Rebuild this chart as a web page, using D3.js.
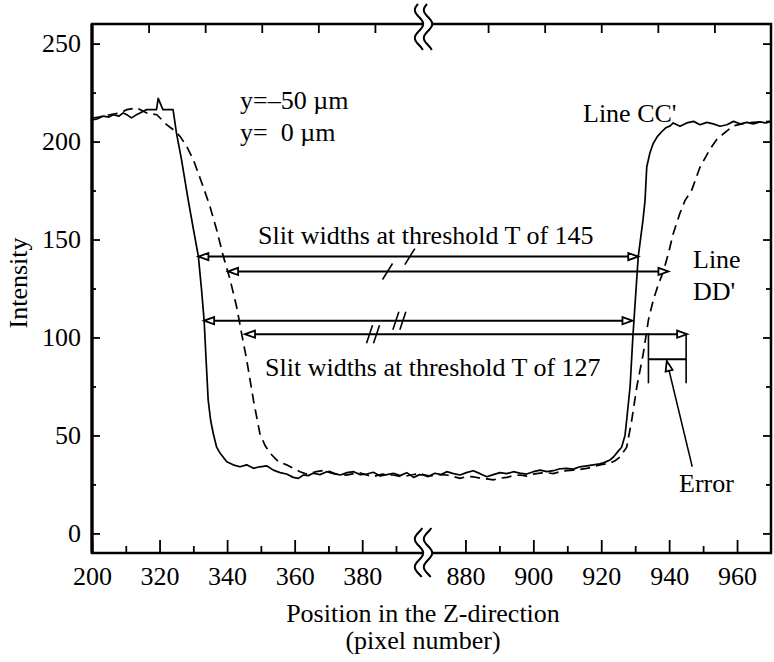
<!DOCTYPE html>
<html><head><meta charset="utf-8">
<script src="https://cdn.jsdelivr.net/npm/d3@7"></script>
<style>
body{margin:0;background:#fff}
text{font-family:"Liberation Serif","Times New Roman",serif;fill:#000}
</style>
</head><body>
<svg id="c" width="774" height="662"></svg>
<script>
// ---------- data ----------
const yTicks = [0, 50, 100, 150, 200, 250];
const yMinorTicks = [25, 75, 125, 175, 225];
const xLeftTicks = [300, 320, 340, 360, 380];
const xLeftLabels = ["200", "320", "340", "360", "380"];
const xLeftMinor = [310, 330, 350, 370, 390];
const xRightTicks = [880, 900, 920, 940, 960];
const xRightLabels = ["880", "900", "920", "940", "960"];
const xRightMinor = [890, 910, 930, 950];
const topTicks = [1, 2, 3, 4, 5, 7, 8, 9, 10, 11];

// Line CC' (solid)
const ccLeft = [[300,211],[301.5,211.5],[303.3,213],[305,212.5],[306.3,213.7],[308,213],[309.2,214.6],[310.5,213.5],[311.7,212.1],[313,213.5],[314.2,214.6],[315.2,215.5],[316.2,216.3],[319.1,216.3],[319.6,222],[321,216.3],[324,216.3],[325,204.4],[326.5,190.8],[328.5,170],[330,155.5],[331.5,141.3],[332.4,125],[333.2,108.6],[333.8,88],[334.4,68],[335.1,58],[335.9,51],[336.9,44],[337.9,41],[339.9,36.6],[341.8,35],[343.8,34],[345.8,35],[347.8,33.2],[349.7,34],[351.7,34.5],[353.7,32.3],[355.7,31],[357.6,30.3],[359.6,28.6],[361.1,28.1],[362.6,29.8],[364,29.5],[365.5,30.7],[367.5,30],[369.5,31.5],[371.5,30.5],[373.5,29.8],[375.5,31],[377.5,31.5],[379.4,30],[381.4,30.3],[383.3,31.2],[385.3,29.3],[387.3,30],[389.3,30.7],[391.2,29.5],[393.2,31],[395.2,28.6],[397,30],[398,29.8]];
const ccRight = [[867.5,29.8],[869,29],[871,30.7],[872.8,30],[874.5,31.5],[876.5,30.5],[878.4,29.8],[880.3,31],[882.3,32],[884.3,30.5],[886.3,28.9],[888.2,30],[890.2,31],[892.2,30.5],[894.1,31.5],[896,30.8],[898,30.3],[900,31.5],[902,32.3],[904,31.5],[905.9,32],[907.8,33],[909.8,33.2],[911.8,32.8],[913.7,34],[915.7,34.5],[917.7,35],[919.5,35.5],[920.6,36],[922.6,37.5],[923.6,39],[925,42],[926,44],[927,50],[927.5,58],[928.5,75],[929.3,100],[930.9,141.3],[932.3,160],[932.9,170],[933.4,187],[934.3,194],[935.3,199],[936.5,202.5],[937.8,205],[939,207],[940.3,208],[941.2,209.5],[943.2,207.8],[945.2,209.5],[947.2,210.3],[949.1,208.6],[951.1,209.8],[953,209],[955,207.8],[957,208.6],[959,210.3],[961,209],[962.9,209.8],[964.8,209],[966.8,210],[968.5,209.5],[970,210.3]];

// Line DD' (dashed)
const ddLeft = [[300,212],[302,212.5],[305.3,213.7],[308.3,214.6],[310.3,216.3],[313.2,217.2],[316.2,214.6],[319.2,213.7],[322.1,208.6],[324.1,206],[326.1,202.6],[328,197.6],[330,190.8],[332.9,177],[334.9,167],[336.9,155],[338.9,141.3],[340.9,129.4],[342.8,115.8],[344.3,102],[345.8,88.6],[347.8,68],[349.7,51],[351.2,45],[352.7,41],[355.2,36.6],[357.6,35],[359.6,33.2],[361.6,31.5],[363.5,30.3],[366.4,31.5],[369.4,32.3],[372.3,30.3],[375.3,29.8],[379.2,31],[383.1,28.9],[386,30.3],[389.1,29.8],[392,28.9],[395.9,30.3],[398,30.3]];
const ddRight = [[867.5,30],[869.6,29.3],[872,30],[874.5,29.8],[876.5,29],[878.4,28.1],[880.3,29],[882.3,28.9],[884.3,28.2],[886.3,27.8],[888.2,27.3],[890.2,28.2],[892.2,28.6],[894.1,29.5],[896.1,29.8],[898,29.2],[900,30.3],[902,30.8],[903.9,31],[905.9,30.5],[907.9,31.5],[909.8,32],[911.8,32.3],[913.7,32.6],[915.7,33.2],[917.7,34],[919.6,35],[922.6,35.8],[924.2,37.2],[925.5,39],[927.5,44],[929,58],[930.5,75],[932.4,92],[933.9,109],[935.3,119],[936.8,127],[938.3,133.7],[939.8,143],[941.2,153],[943.2,163.5],[944.7,170],[946.6,175],[949.1,187],[952,196],[954,201],[956,204],[958.9,208],[962.9,209.5],[966.8,210],[969.7,210.3]];

// threshold arrows: level (intensity), left end, right end, slash position, number of slashes
const arrowLevels = [141.3, 133.7, 108.6, 101.7];
const arrowFrom = [331.5, 340.3, 333.2, 345.3];
const arrowTo = [930.9, 939.8, 929.2, 945.3];
const arrowSlashAt = [394.1, 387.5, 391.0, 383.2];
const arrowSlashCount = [1, 1, 2, 2];

// error bracket (intensity values / positions)
const errorBracketX = [933.9, 945.0];
const errorBracketY = [102.2, 76.6, 88.9];
const errorArrowTip = [939.3, 88.0];
const errorArrowTail = [946.8, 34.0];

const legendLabels = ["y=\u201350 \u00b5m", "y=  0 \u00b5m"];

// ---------- layout ----------
const svg = d3.select("#c");
const L = 92, R = 771, T = 24, B = 553, BRK = 423.5;
const y = d3.scaleLinear().domain([-10, 260]).range([B, T]);
const xL = d3.scaleLinear().domain([300, 398]).range([L, 423]);
const xR = d3.scaleLinear().domain([867.5, 970]).range([423, R]);
const xTop = d3.scaleLinear().domain([0, 12]).range([L, R]);
const xs = v => v < 600 ? xL(v) : xR(v);
const FS = "26px";

// frame
svg.append("rect").attr("x", L).attr("y", T).attr("width", R - L).attr("height", B - T)
  .attr("fill", "none").attr("stroke", "#000").attr("stroke-width", 2.5);
svg.append("line").attr("x1", L).attr("x2", L).attr("y1", T).attr("y2", B).attr("stroke", "#000").attr("stroke-width", 3.2);

function styleAxis(g) {
  g.select(".domain").remove();
  g.selectAll("line").attr("stroke", "#000").attr("stroke-width", 1.8);
  g.selectAll("text").attr("font-family", "Liberation Serif, Times New Roman, serif").attr("font-size", FS).attr("fill", "#000");
  g.attr("font-family", null).attr("font-size", null);
}

// left y axis
svg.append("g").attr("transform", `translate(${L},0)`)
  .call(d3.axisLeft(y).tickValues(yTicks).tickSize(-8).tickPadding(11)).call(styleAxis);
svg.append("g").attr("transform", `translate(${L},0)`)
  .call(d3.axisLeft(y).tickValues(yMinorTicks).tickSize(-4).tickFormat("")).call(styleAxis);
// right y axis
svg.append("g").attr("transform", `translate(${R},0)`)
  .call(d3.axisRight(y).tickValues(yTicks).tickSize(-8).tickFormat("")).call(styleAxis);
svg.append("g").attr("transform", `translate(${R},0)`)
  .call(d3.axisRight(y).tickValues(yMinorTicks).tickSize(-5).tickFormat("")).call(styleAxis);
// top ticks
svg.append("g").attr("transform", `translate(0,${T})`)
  .call(d3.axisTop(xTop).tickValues(topTicks).tickSize(-9).tickFormat("")).call(styleAxis);
// bottom x axes (broken)
svg.append("g").attr("transform", `translate(0,${B})`)
  .call(d3.axisBottom(xL).tickValues(xLeftTicks).tickSize(-13).tickPadding(14).tickFormat((d, i) => xLeftLabels[i])).call(styleAxis);
svg.append("g").attr("transform", `translate(0,${B})`)
  .call(d3.axisBottom(xL).tickValues(xLeftMinor).tickSize(-7).tickFormat("")).call(styleAxis);
svg.append("g").attr("transform", `translate(0,${B})`)
  .call(d3.axisBottom(xR).tickValues(xRightTicks).tickSize(-13).tickPadding(14).tickFormat((d, i) => xRightLabels[i])).call(styleAxis);
svg.append("g").attr("transform", `translate(0,${B})`)
  .call(d3.axisBottom(xR).tickValues(xRightMinor).tickSize(-7).tickFormat("")).call(styleAxis);

// break marks
function breakMark(yc, up, down) {
  const P = 28, A = 4.2, gap = 9;
  const wave = cx => d3.range(-up, down + 0.5, 1).map(t => [cx + A * Math.cos(2 * Math.PI * t / P), yc + t]);
  const w1 = wave(BRK - gap / 2), w2 = wave(BRK + gap / 2);
  svg.append("path").attr("d", d3.line()(w1.concat(w2.slice().reverse())) + "Z")
    .attr("fill", "#fff").attr("stroke", "none");
  [w1, w2].forEach(w => svg.append("path").attr("d", d3.line().curve(d3.curveBasis)(w))
    .attr("fill", "none").attr("stroke", "#000").attr("stroke-width", 2));
}
breakMark(T, 20, 26);
breakMark(B, 25, 24);

// curves
const line = d3.line().x(d => xs(d[0])).y(d => y(d[1]));
[ccLeft, ccRight].forEach(s => svg.append("path").attr("d", line(s))
  .attr("fill", "none").attr("stroke", "#000").attr("stroke-width", 1.7).attr("stroke-linejoin", "round"));
[ddLeft, ddRight].forEach(s => svg.append("path").attr("d", line(s))
  .attr("fill", "none").attr("stroke", "#000").attr("stroke-width", 1.7).attr("stroke-dasharray", "10,6"));

// arrows
function head(tx, ty, ang) {
  const len = 10, hw = 3.6;
  const c = Math.cos(ang), s = Math.sin(ang);
  const bx = tx - len * c, by = ty - len * s;
  const pts = [[tx, ty], [bx - hw * s, by + hw * c], [bx + hw * s, by - hw * c]];
  svg.append("path").attr("d", d3.line()(pts) + "Z").attr("fill", "#fff").attr("stroke", "#000").attr("stroke-width", 1.8);
}
arrowLevels.forEach((lv, i) => {
  const yy = y(lv), x0 = xs(arrowFrom[i]), x1 = xs(arrowTo[i]);
  svg.append("line").attr("x1", x0 + 8).attr("x2", x1 - 8).attr("y1", yy).attr("y2", yy)
    .attr("stroke", "#000").attr("stroke-width", 2);
  head(x0, yy, Math.PI);
  head(x1, yy, 0);
  const sx = xs(arrowSlashAt[i]);
  const n = arrowSlashCount[i];
  for (let k = 0; k < n; k++) {
    const cx = sx + (k - (n - 1) / 2) * 7;
    const h = n === 1 ? 8 : 9, w = n === 1 ? 5 : 3;
    svg.append("line").attr("x1", cx - w).attr("y1", yy + h).attr("x2", cx + w).attr("y2", yy - h)
      .attr("stroke", "#000").attr("stroke-width", 1.6);
  }
});

// error bracket
const ebx0 = xs(errorBracketX[0]), ebx1 = xs(errorBracketX[1]);
[ebx0, ebx1].forEach(xx => svg.append("line").attr("x1", xx).attr("x2", xx)
  .attr("y1", y(errorBracketY[0])).attr("y2", y(errorBracketY[1])).attr("stroke", "#000").attr("stroke-width", 1.6));
svg.append("line").attr("x1", ebx0).attr("x2", ebx1).attr("y1", y(errorBracketY[2])).attr("y2", y(errorBracketY[2]))
  .attr("stroke", "#000").attr("stroke-width", 1.8);
{
  const tx = xs(errorArrowTip[0]), ty = y(errorArrowTip[1]);
  const sx = xs(errorArrowTail[0]), sy = y(errorArrowTail[1]);
  const ang = Math.atan2(ty - sy, tx - sx);
  svg.append("line").attr("x1", sx).attr("y1", sy).attr("x2", tx - 8 * Math.cos(ang)).attr("y2", ty - 8 * Math.sin(ang))
    .attr("stroke", "#000").attr("stroke-width", 1.5);
  head(tx, ty, ang);
}

// texts
function txt(x, yy, s, anchor) {
  return svg.append("text").attr("x", x).attr("y", yy).attr("font-size", FS)
    .attr("text-anchor", anchor || "start").style("white-space", "pre").text(s);
}
txt(240, 109, legendLabels[0]);
txt(240, 141, legendLabels[1]);
txt(583, 122, "Line CC'");
txt(693, 268, "Line");
txt(693, 300, "DD'");
txt(258, 243.5, "Slit widths at threshold T of 145");
txt(265, 375.5, "Slit widths at threshold T of 127");
txt(679, 492, "Error");
txt(423, 622, "Position in the Z-direction", "middle");
txt(423, 649, "(pixel number)", "middle");
svg.append("text").attr("transform", "translate(27,283) rotate(-90)").attr("text-anchor", "middle")
  .attr("font-size", FS).text("Intensity");
</script>
</body></html>
